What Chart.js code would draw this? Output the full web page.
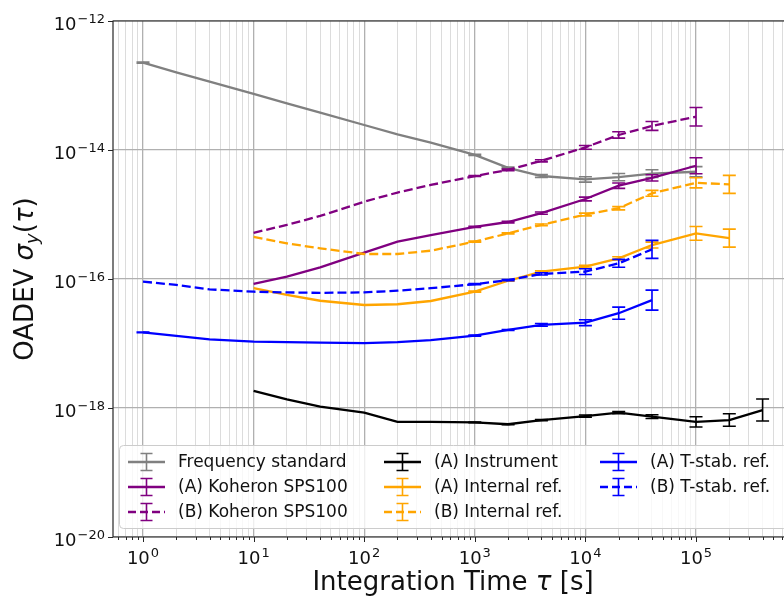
<!DOCTYPE html>
<html><head><meta charset="utf-8">
<script src="https://cdn.jsdelivr.net/npm/chart.js@4.4.1/dist/chart.umd.min.js"></script>
<style>html,body{margin:0;padding:0;background:#fff}#wrap{width:784px;height:600px;position:relative}</style>
</head><body><div id="wrap"><canvas id="c" width="784" height="600"></canvas></div>
<script>
// ---- data ----
const tau = [1, 2, 4, 10, 20, 40, 100, 200, 400, 1000, 2000, 4000, 1e4, 2e4, 4e4, 1e5, 2e5, 4e5];
const freqStd  = [2.26e-13, 1.6e-13, 1.15e-13, 7.4e-14, 5.3e-14, 3.8e-14, 2.44e-14, 1.75e-14, 1.3e-14, 8.4e-15, 5.3e-15, 3.95e-15, 3.5e-15, 3.8e-15, 4.3e-15, 4.6e-15, null, null];
const kohA     = [null, null, null, 8.4e-17, 1.09e-16, 1.51e-16, 2.56e-16, 3.8e-16, 4.8e-16, 6.45e-16, 7.65e-16, 1.05e-15, 1.74e-15, 2.8e-15, 3.7e-15, 5.7e-15, null, null];
const kohB     = [null, null, null, 5.2e-16, 6.9e-16, 9.5e-16, 1.58e-15, 2.19e-15, 2.87e-15, 3.95e-15, 4.9e-15, 6.8e-15, 1.1e-14, 1.71e-14, 2.36e-14, 3.28e-14, null, null];
const instrA   = [null, null, null, 1.85e-18, 1.36e-18, 1.05e-18, 8.5e-19, 6.1e-19, 6.1e-19, 6.0e-19, 5.6e-19, 6.5e-19, 7.5e-19, 8.5e-19, 7.35e-19, 6.1e-19, 6.5e-19, 9.3e-19];
const intA     = [null, null, null, 7.2e-17, 5.65e-17, 4.6e-17, 3.95e-17, 4.06e-17, 4.56e-17, 6.36e-17, 9.4e-17, 1.3e-16, 1.55e-16, 2.09e-16, 3.36e-16, 5.1e-16, 4.3e-16, null];
const intB     = [null, null, null, 4.5e-16, 3.57e-16, 2.99e-16, 2.44e-16, 2.44e-16, 2.75e-16, 3.8e-16, 5.1e-16, 6.9e-16, 1.0e-15, 1.25e-15, 2.13e-15, 3.1e-15, 2.93e-15, null];
const tstabA   = [1.49e-17, 1.31e-17, 1.16e-17, 1.07e-17, 1.05e-17, 1.03e-17, 1.01e-17, 1.05e-17, 1.13e-17, 1.32e-17, 1.62e-17, 1.94e-17, 2.1e-17, 2.95e-17, 4.7e-17, null, null, null];
const tstabB   = [9.1e-17, 8.1e-17, 6.9e-17, 6.35e-17, 6.2e-17, 6.1e-17, 6.2e-17, 6.6e-17, 7.2e-17, 8.3e-17, 9.6e-17, 1.2e-16, 1.3e-16, 1.75e-16, 2.88e-16, null, null, null];
// error bars: multiplicative factor (bar spans value/f .. value*f); null = not visible
const freqStdErr = [1.02, null, null, null, null, null, null, null, null, 1.02, 1.03, 1.05, 1.1, 1.14, 1.15, 1.2, null, null];
const kohAErr    = [null, null, null, null, null, null, null, null, null, 1.02, 1.03, 1.04, 1.07, 1.1, 1.12, 1.33, null, null];
const kohBErr    = [null, null, null, null, null, null, null, null, null, 1.02, 1.03, 1.04, 1.07, 1.12, 1.17, 1.39, null, null];
const instrAErr  = [null, null, null, null, null, null, null, null, null, 1.01, 1.02, 1.02, 1.04, 1.04, 1.07, 1.2, 1.25, 1.48];
const intAErr    = [null, null, null, null, null, null, null, null, null, 1.02, 1.02, 1.03, 1.05, 1.06, 1.11, 1.28, 1.38, null];
const intBErr    = [null, null, null, null, null, null, null, null, null, 1.02, 1.02, 1.03, 1.05, 1.06, 1.11, 1.2, 1.38, null];
const tstabAErr  = [1.01, null, null, null, null, null, null, null, null, 1.02, 1.02, 1.05, 1.11, 1.24, 1.43, null, null, null];
const tstabBErr  = [null, null, null, null, null, null, null, null, null, 1.02, 1.02, 1.04, 1.11, 1.15, 1.38, null, null, null];

const seriesNames = ['Frequency standard', '(A) Koheron SPS100', '(B) Koheron SPS100', '(A) Instrument', '(A) Internal ref.', '(B) Internal ref.', '(A) T-stab. ref.', '(B) T-stab. ref.'];

const xTickValues = [1, 10, 100, 1e3, 1e4, 1e5];
const xTickLabels = [['10', '0'], ['10', '1'], ['10', '2'], ['10', '3'], ['10', '4'], ['10', '5']];
const yTickValues = [1e-20, 1e-18, 1e-16, 1e-14, 1e-12];
const yTickLabels = [['10', '\u221220'], ['10', '\u221218'], ['10', '\u221216'], ['10', '\u221214'], ['10', '\u221212']];
const xTitle = ['Integration Time ', '\u03c4', ' [s]'];
const yTitle = 'OADEV';

// ---- build ----
function pts(vals) { const o = []; vals.forEach((v, i) => { if (v != null) o.push({x: tau[i], y: v}); }); return o; }
function errs(vals, ref) { const o = []; ref.forEach((v, i) => { if (v != null) o.push(vals[i]); }); return o; }

const styles = [
  {c: '#808080', dash: []},
  {c: '#800080', dash: []},
  {c: '#800080', dash: [9, 4]},
  {c: '#000000', dash: []},
  {c: '#FFA500', dash: []},
  {c: '#FFA500', dash: [9, 4]},
  {c: '#0000FF', dash: []},
  {c: '#0000FF', dash: [9, 4]}
];
const vals = [freqStd, kohA, kohB, instrA, intA, intB, tstabA, tstabB];
const evals = [freqStdErr, kohAErr, kohBErr, instrAErr, intAErr, intBErr, tstabAErr, tstabBErr];

const datasets = vals.map((v, i) => ({
  label: seriesNames[i],
  data: pts(v),
  errF: errs(evals[i], v),
  borderColor: styles[i].c,
  backgroundColor: styles[i].c,
  borderDash: styles[i].dash,
  borderWidth: 2.3,
  pointRadius: 0,
  tension: 0,
  fill: false,
  order: vals.length - i
}));

const L = 113, T = 21, B = 537;
const isDecade = v => Math.abs(Math.log10(v) - Math.round(Math.log10(v))) < 1e-9;
const FM = '18px "DejaVu Sans"', FE = '13px "DejaVu Sans"';

const errPlugin = {
  id: 'errbars',
  afterDatasetDraw(chart, args) {
    const ds = chart.data.datasets[args.index];
    if (!ds.errF) return;
    const xs = chart.scales.x, ys = chart.scales.y, ctx = chart.ctx;
    ctx.save();
    ctx.strokeStyle = ds.borderColor; ctx.lineWidth = 1.6; ctx.setLineDash([]);
    ds.data.forEach((p, i) => {
      const f = ds.errF[i];
      if (f == null) return;
      const px = xs.getPixelForValue(p.x);
      const y1 = ys.getPixelForValue(p.y / f), y2 = ys.getPixelForValue(p.y * f);
      ctx.beginPath();
      ctx.moveTo(px, y1); ctx.lineTo(px, y2);
      ctx.moveTo(px - 6.5, y1); ctx.lineTo(px + 6.5, y1);
      ctx.moveTo(px - 6.5, y2); ctx.lineTo(px + 6.5, y2);
      ctx.stroke();
    });
    ctx.restore();
  }
};

const framePlugin = {
  id: 'frame',
  afterDraw(chart) {
    const ctx = chart.ctx, xs = chart.scales.x, ys = chart.scales.y, a = chart.chartArea;
    ctx.save();
    ctx.strokeStyle = '#262626'; ctx.lineWidth = 1.2;
    ctx.beginPath();
    ctx.moveTo(a.right + 2, a.top); ctx.lineTo(a.left, a.top); ctx.lineTo(a.left, a.bottom); ctx.lineTo(a.right + 2, a.bottom);
    ctx.stroke();
    // tick marks
    ctx.lineWidth = 1;
    ctx.beginPath();
    xs.ticks.forEach(t => {
      const px = Math.round(xs.getPixelForValue(t.value)) + 0.5;
      const len = isDecade(t.value) ? 5 : 3;
      ctx.moveTo(px, a.bottom); ctx.lineTo(px, a.bottom + len);
    });
    ys.ticks.forEach(t => {
      const py = Math.round(ys.getPixelForValue(t.value)) + 0.5;
      ctx.moveTo(a.left, py); ctx.lineTo(a.left - 5, py);
    });
    ctx.stroke();
    // tick labels (base + raised exponent)
    ctx.fillStyle = '#111'; ctx.textBaseline = 'alphabetic'; ctx.textAlign = 'left';
    xTickValues.forEach((v, i) => {
      const [b, e] = xTickLabels[i];
      ctx.font = FM; const wb = ctx.measureText(b).width;
      ctx.font = FE; const we = ctx.measureText(e).width;
      const px = xs.getPixelForValue(v);
      let x0 = px - (wb + we + 1) / 2;
      ctx.font = FM; ctx.fillText(b, x0, 564);
      ctx.font = FE; ctx.fillText(e, x0 + wb + 1, 557);
    });
    yTickValues.forEach((v, i) => {
      const [b, e] = yTickLabels[i];
      ctx.font = FM; const wb = ctx.measureText(b).width;
      ctx.font = FE; const we = ctx.measureText(e).width;
      const py = ys.getPixelForValue(v);
      const x0 = 105 - we - 1 - wb;
      ctx.font = FM; ctx.fillText(b, x0, py + 8.5);
      ctx.font = FE; ctx.fillText(e, x0 + wb + 1, py + 1.5);
    });
    // axis titles
    ctx.fillStyle = '#111';
    const fN = '26px "DejaVu Sans"', fI = 'oblique 26px "DejaVu Sans"', fS = 'oblique 18px "DejaVu Sans"';
    ctx.font = fN; const w0 = ctx.measureText(xTitle[0]).width, w2 = ctx.measureText(xTitle[2]).width;
    ctx.font = fI; const w1 = ctx.measureText(xTitle[1]).width;
    let x = 453 - (w0 + w1 + w2) / 2; const by = 590;
    ctx.font = fN; ctx.fillText(xTitle[0], x, by); x += w0;
    ctx.font = fI; ctx.fillText(xTitle[1], x, by); x += w1;
    ctx.font = fN; ctx.fillText(xTitle[2], x, by);
    const parts = [[yTitle + ' ', fN, 0], ['\u03c3', fI, 0], ['y', fS, 5], ['(', fN, 0], ['\u03c4', fI, 0], [')', fN, 0]];
    let tot = 0; parts.forEach(p => { ctx.font = p[1]; p.push(ctx.measureText(p[0]).width); tot += p[3]; });
    ctx.translate(33, (a.top + a.bottom) / 2);
    ctx.rotate(-Math.PI / 2);
    let lx = -tot / 2;
    parts.forEach(p => { ctx.font = p[1]; ctx.fillText(p[0], lx, p[2]); lx += p[3]; });
    ctx.restore();
  }
};

const legendPlugin = {
  id: 'customLegend',
  afterDraw(chart) {
    const ctx = chart.ctx;
    ctx.save();
    const bx = 119.5, by = 445.5, bw = 668, bh = 83, r = 4;
    ctx.beginPath();
    ctx.moveTo(bx + r, by); ctx.lineTo(bx + bw - r, by); ctx.quadraticCurveTo(bx + bw, by, bx + bw, by + r);
    ctx.lineTo(bx + bw, by + bh - r); ctx.quadraticCurveTo(bx + bw, by + bh, bx + bw - r, by + bh);
    ctx.lineTo(bx + r, by + bh); ctx.quadraticCurveTo(bx, by + bh, bx, by + bh - r);
    ctx.lineTo(bx, by + r); ctx.quadraticCurveTo(bx, by, bx + r, by);
    ctx.closePath();
    ctx.fillStyle = 'rgba(255,255,255,0.8)'; ctx.fill();
    ctx.strokeStyle = '#cccccc'; ctx.lineWidth = 1; ctx.stroke();
    const cols = [128, 384, 600], rows = [462, 487, 512];
    const layout = [[0, 0], [0, 1], [0, 2], [1, 0], [1, 1], [1, 2], [2, 0], [2, 1]];
    ctx.font = '17px "DejaVu Sans"'; ctx.textBaseline = 'middle';
    chart.data.datasets.forEach((ds, i) => {
      const hx = cols[layout[i][0]], hy = rows[layout[i][1]];
      ctx.strokeStyle = ds.borderColor; ctx.lineWidth = 2.3;
      ctx.setLineDash(ds.borderDash.length ? [8, 4] : []);
      ctx.beginPath(); ctx.moveTo(hx, hy); ctx.lineTo(hx + 37, hy); ctx.stroke();
      ctx.setLineDash([]); ctx.lineWidth = 1.6;
      const cx = hx + 18.5;
      ctx.beginPath();
      ctx.moveTo(cx, hy - 8.5); ctx.lineTo(cx, hy + 8.5);
      ctx.moveTo(cx - 6, hy - 8.5); ctx.lineTo(cx + 6, hy - 8.5);
      ctx.moveTo(cx - 6, hy + 8.5); ctx.lineTo(cx + 6, hy + 8.5);
      ctx.stroke();
      ctx.fillStyle = '#111';
      ctx.fillText(ds.label, hx + 50, hy + 1);
    });
    ctx.restore();
  }
};

Chart.defaults.font.family = '"DejaVu Sans"';
new Chart(document.getElementById('c'), {
  type: 'line',
  data: {datasets},
  options: {
    responsive: false,
    devicePixelRatio: 1,
    animation: false,
    layout: {padding: {left: 0, right: 0, top: T, bottom: 0}},
    plugins: {legend: {display: false}, tooltip: {enabled: false}},
    scales: {
      x: {
        type: 'logarithmic',
        min: 0.5355, max: 6.245e5,
        afterFit(s) { s.height = 600 - B; },
        afterBuildTicks(s) {
          const t = [];
          for (let k = -1; k <= 5; k++) for (let m = 1; m <= 9; m++) {
            const v = m * Math.pow(10, k);
            if (v >= s.min && v <= s.max) t.push({value: v, major: m === 1});
          }
          s.ticks = t;
        },
        ticks: {display: false, autoSkip: false, maxRotation: 0},
        grid: {
          drawTicks: false,
          color: c => (c.tick && isDecade(c.tick.value)) ? '#b0b0b0' : '#dcdcdc',
          lineWidth: c => (c.tick && isDecade(c.tick.value)) ? 1.3 : 1
        },
        border: {display: false}
      },
      y: {
        type: 'logarithmic',
        min: 1e-20, max: 1e-12,
        afterFit(s) { s.width = L; },
        afterBuildTicks(s) { s.ticks = yTickValues.map(v => ({value: v, major: true})); },
        ticks: {display: false, autoSkip: false},
        grid: {drawTicks: false, color: '#b0b0b0', lineWidth: 1.3},
        border: {display: false}
      }
    }
  },
  plugins: [errPlugin, framePlugin, legendPlugin]
});
</script>
</body></html>
